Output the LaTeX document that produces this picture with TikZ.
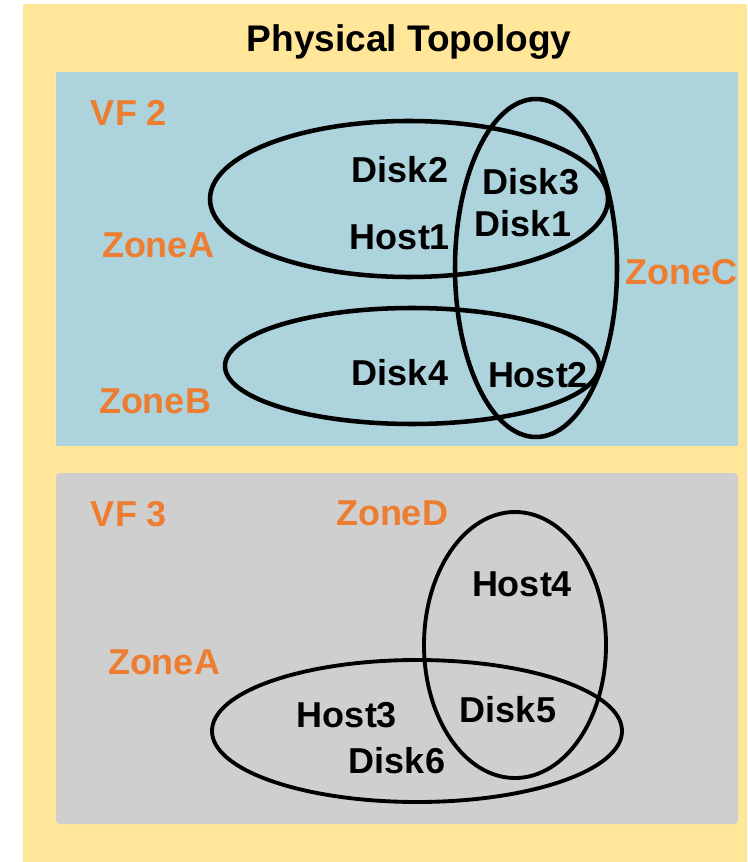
\documentclass[tikz,border=0pt]{standalone}
\usepackage{fontspec}
\setmainfont{Liberation Sans}
\definecolor{bgyellow}{RGB}{255,230,153}
\definecolor{vfblue}{RGB}{173,211,220}
\definecolor{vfgray}{RGB}{207,207,207}
\definecolor{zoneorange}{RGB}{237,125,49}
\begin{document}
\begin{tikzpicture}[x=0.75pt,y=-0.75pt,
  lbl/.style={anchor=base,inner sep=0pt,font=\fontsize{27}{32}\selectfont\bfseries},
  item/.style={lbl,text=black},
  zonelbl/.style={lbl,text=zoneorange},
  zoneline/.style={draw=black,line width=3.4pt},
  zonelinethin/.style={draw=black,line width=2.9pt}]
\useasboundingbox (0,0) rectangle (747,862);
% backgrounds
\fill[bgyellow] (23,4) rectangle (747,862);
\fill[vfblue] (56,72) rectangle (738,446);
\fill[vfgray,rounded corners=3pt] (56,473) rectangle (738,824);
% title
\node[item,font=\fontsize{27.8}{33}\selectfont\bfseries] (title) at (409,52) {Physical Topology};
% VF 2 ellipses
\draw[zoneline] (409,199) ellipse [x radius=149.25pt, y radius=58.5pt];
\draw[zoneline] (536,268) ellipse [x radius=60.75pt, y radius=126.75pt];
\draw[zoneline] (412,366) ellipse [x radius=140.25pt, y radius=43.5pt];
% VF 3 ellipses
\draw[zonelinethin] (515,645) ellipse [x radius=68.25pt, y radius=99.75pt];
\draw[zonelinethin] (417,731) ellipse [x radius=153.75pt, y radius=53.25pt];
% VF 2 labels
\node[zonelbl] (vf2) at (129,126) {VF 2};
\node[zonelbl] (zoneA1) at (158,258) {ZoneA};
\node[zonelbl] (zoneB) at (155,413) {ZoneB};
\node[zonelbl] (zoneC) at (681,285) {ZoneC};
\node[item] (disk2) at (400,183) {Disk2};
\node[item] (host1) at (400,250) {Host1};
\node[item] (disk3) at (531,195) {Disk3};
\node[item] (disk1) at (523,237) {Disk1};
\node[item] (disk4) at (400,385) {Disk4};
\node[item] (host2) at (538,387) {Host2};
% VF 3 labels
\node[zonelbl] (vf3) at (129,526) {VF 3};
\node[zonelbl] (zoneD) at (392,525) {ZoneD};
\node[zonelbl] (zoneA2) at (164,674) {ZoneA};
\node[item] (host4) at (522,596) {Host4};
\node[item] (host3) at (347,727) {Host3};
\node[item] (disk5) at (508,722) {Disk5};
\node[item] (disk6) at (397,773) {Disk6};
\end{tikzpicture}
\end{document}
